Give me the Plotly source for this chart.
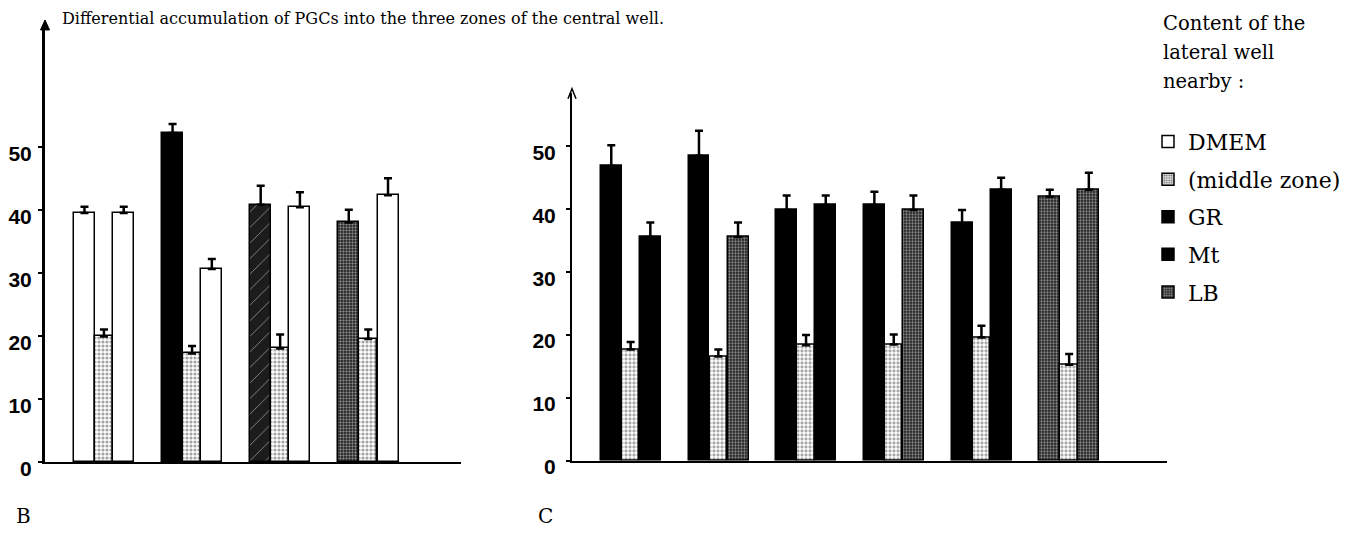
import plotly.graph_objects as go

# ---------------- data ----------------
title_text = "Differential accumulation of PGCs into the three zones of the central well."
legend_header = ["Content of the", "lateral well", "nearby :"]
legend_names = ["DMEM", "(middle zone)", "GR", "Mt", "LB"]

y_ticks = [0, 10, 20, 30, 40, 50]

# Panel B (4 groups: left bar / middle zone / right bar)
B_left = [39.6, 52.3, 40.9, 38.1]
B_left_err = [1.0, 1.4, 3.0, 2.0]
B_left_kind = ["DMEM", "GR", "Mt", "LB"]
B_mid = [20.0, 17.3, 18.1, 19.6]
B_mid_err = [1.1, 1.2, 2.2, 1.5]
B_right = [39.6, 30.7, 40.5, 42.4]
B_right_err = [1.0, 1.6, 2.4, 2.7]
B_right_kind = ["DMEM", "DMEM", "DMEM", "DMEM"]

# Panel C (6 groups)
C_left = [46.9, 48.5, 39.9, 40.7, 37.8, 42.0]
C_left_err = [3.3, 4.0, 2.3, 2.1, 2.1, 1.1]
C_left_kind = ["GR", "GR", "GR", "GR", "GR", "LB"]
C_mid = [17.7, 16.6, 18.4, 18.5, 19.6, 15.3]
C_mid_err = [1.2, 1.1, 1.6, 1.6, 1.9, 1.7]
C_right = [35.6, 35.6, 40.7, 39.9, 43.1, 43.1]
C_right_err = [2.3, 2.3, 1.5, 2.3, 1.9, 2.7]
C_right_kind = ["Mt", "LB", "Mt", "LB", "Mt", "LB"]

# ---------------- styles ----------------
W, H = 1354, 551          # layout size
PIC_W, PIC_H = 1354, 535  # picture size the positions below refer to
def fx(px):
    return px / PIC_W
def fy(py):
    return 1 - py / PIC_H

STYLE = {
    "DMEM": dict(shape="", bg="white", fg="black", size=6, sol=0.3),
    "(middle zone)": dict(shape=".", bg="white", fg="black", size=4, sol=0.5),
    "GR": dict(shape="", bg="black", fg="black", size=6, sol=0.3),
    "Mt": dict(shape="/", bg="#1c1c1c", fg="#6a6a6a", size=11, sol=0.08),
    "LB": dict(shape=".", bg="#111111", fg="white", size=3, sol=0.5),
}
STYLE_C = dict(STYLE)
STYLE_C["Mt"] = STYLE["GR"]

TICK_FONT = "Liberation Sans, Arial, sans-serif"
SERIF = "DejaVu Serif, Liberation Serif, serif"

PX_UNIT = 88.0  # pixels per group
L_OFF, L_W = -30 / PX_UNIT, 21 / PX_UNIT
M_OFF, M_W = -8.8 / PX_UNIT, 17.5 / PX_UNIT
R_OFF, R_W = 9.2 / PX_UNIT, 21 / PX_UNIT

fig = go.Figure()

def add_bars(vals, errs, kinds, off, width, styles, xa, ya):
    n = len(vals)
    fig.add_trace(go.Bar(
        x=list(range(n)), y=vals, offset=off, width=width,
        xaxis=xa, yaxis=ya, showlegend=False, hoverinfo="skip",
        marker=dict(
            color=[styles[k]["bg"] for k in kinds],
            line=dict(color="black", width=1.5),
            pattern=dict(
                shape=[styles[k]["shape"] for k in kinds],
                bgcolor=[styles[k]["bg"] for k in kinds],
                fgcolor=[styles[k]["fg"] for k in kinds],
                size=[styles[k]["size"] for k in kinds],
                solidity=[styles[k]["sol"] for k in kinds],
            ),
        ),
        error_y=dict(type="data", symmetric=False, array=errs,
                     arrayminus=[0] * n, color="black", thickness=2.5, width=4),
    ))

add_bars(B_left, B_left_err, B_left_kind, L_OFF, L_W, STYLE, "x", "y")
add_bars(B_mid, B_mid_err, ["(middle zone)"] * len(B_mid), M_OFF, M_W, STYLE, "x", "y")
add_bars(B_right, B_right_err, B_right_kind, R_OFF, R_W, STYLE, "x", "y")

add_bars(C_left, C_left_err, C_left_kind, L_OFF, L_W, STYLE_C, "x2", "y2")
add_bars(C_mid, C_mid_err, ["(middle zone)"] * len(C_mid), M_OFF, M_W, STYLE_C, "x2", "y2")
add_bars(C_right, C_right_err, C_right_kind, R_OFF, R_W, STYLE_C, "x2", "y2")

# legend swatch traces
LEG_STYLE = {
    "DMEM": STYLE["DMEM"], "(middle zone)": STYLE["(middle zone)"],
    "GR": STYLE["GR"], "Mt": STYLE["GR"], "LB": STYLE["LB"],
}
for i, name in enumerate(legend_names):
    s = LEG_STYLE[name]
    fig.add_trace(go.Bar(
        x=[None], y=[None], name=name, xaxis="x2", yaxis="y2",
        legendgroup=f"g{i}", showlegend=True,
        marker=dict(color=s["bg"], line=dict(color="black", width=1.5),
                    pattern=dict(shape=s["shape"], bgcolor=s["bg"], fgcolor=s["fg"],
                                 size=3, solidity=s["sol"])),
    ))

# axes geometry (pixels in the final picture)
B_axis_x, B_end_x, B_c0, B_zero_y, B_top_y, B_ppu = 45, 461, 104, 463.3, 28, 6.312
C_axis_x, C_end_x, C_c0, C_zero_y, C_top_y, C_ppu = 572, 1167, 630.7, 461.7, 93, 6.30
C_unit = 87.7
B_unit = 88.1

tickfont = dict(family=TICK_FONT, size=21, color="black", weight="bold")

fig.update_layout(
    width=W, height=H, margin=dict(l=0, r=0, t=0, b=0), autosize=False,
    paper_bgcolor="white", plot_bgcolor="rgba(0,0,0,0)",
    barmode="overlay", bargap=0,
    xaxis=dict(domain=[fx(B_axis_x), fx(B_end_x)],
               range=[(B_axis_x - B_c0) / B_unit, (B_end_x - B_c0) / B_unit],
               showline=True, linecolor="black", linewidth=1.5, showgrid=False,
               zeroline=False, showticklabels=False, ticks="", anchor="y"),
    yaxis=dict(domain=[fy(B_zero_y), fy(B_top_y)],
               range=[0, (B_zero_y - B_top_y) / B_ppu],
               tickvals=y_ticks, ticktext=[str(v) for v in y_ticks],
               showline=True, linecolor="black", linewidth=3, showgrid=False,
               zeroline=False, ticks="outside", ticklen=4, tickwidth=2,
               tickcolor="black", tickfont=tickfont, ticklabelstandoff=2,
               ticklabelshift=6, anchor="x"),
    xaxis2=dict(domain=[fx(C_axis_x), fx(C_end_x)],
                range=[(C_axis_x - C_c0) / C_unit, (C_end_x - C_c0) / C_unit],
                showline=True, linecolor="black", linewidth=2, showgrid=False,
                zeroline=False, showticklabels=False, ticks="", anchor="y2"),
    yaxis2=dict(domain=[fy(C_zero_y), fy(C_top_y)],
                range=[0, (C_zero_y - C_top_y) / C_ppu],
                tickvals=y_ticks, ticktext=[str(v) for v in y_ticks],
                showline=True, linecolor="black", linewidth=2, showgrid=False,
                zeroline=False, ticks="outside", ticklen=4, tickwidth=2,
                tickcolor="black", tickfont=tickfont, ticklabelstandoff=6,
                ticklabelshift=6, anchor="x2"),
    legend=dict(x=fx(1148), y=fy(121), xanchor="left", yanchor="top",
                font=dict(family=SERIF, size=22, color="black"),
                traceorder="grouped", tracegroupgap=6, itemwidth=30,
                bgcolor="rgba(0,0,0,0)"),
    showlegend=True,
)

# axis arrows
fig.add_shape(type="path", xref="paper", yref="paper",
              path=f"M {fx(B_axis_x-4.5)},{fy(B_top_y+2)} L {fx(B_axis_x)},{fy(B_top_y-8)} L {fx(B_axis_x+4.5)},{fy(B_top_y+2)} Z",
              fillcolor="black", line=dict(color="black", width=1))
fig.add_shape(type="path", xref="paper", yref="paper",
              path=f"M {fx(C_axis_x-4)},{fy(C_top_y+6)} L {fx(C_axis_x)},{fy(C_top_y-4)} L {fx(C_axis_x+4)},{fy(C_top_y+6)}",
              line=dict(color="black", width=1.5))

# title
fig.add_annotation(x=fx(60), y=fy(19), xref="paper", yref="paper",
                   xanchor="left", yanchor="middle", showarrow=False,
                   text=title_text, font=dict(family=SERIF, size=16, color="black"))
# legend header
for i, line in enumerate(legend_header):
    fig.add_annotation(x=fx(1161), y=fy(24 + 29 * i), xref="paper", yref="paper",
                       xanchor="left", yanchor="middle", showarrow=False,
                       text=line, font=dict(family=SERIF, size=19.5, color="black"))
# panel letters
for letter, px in (("B", 14), ("C", 536)):
    fig.add_annotation(x=fx(px), y=fy(517), xref="paper", yref="paper",
                       xanchor="left", yanchor="middle", showarrow=False,
                       text=letter, font=dict(family=SERIF, size=20, color="black"))

fig.write_html("out.html", config={"displayModeBar": False},
               post_script="document.body.style.margin='0';document.body.style.overflow='hidden';")
